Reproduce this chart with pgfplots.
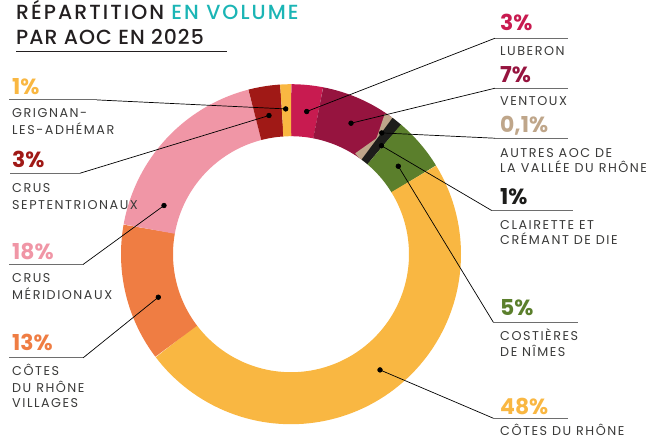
\documentclass[border=0pt]{standalone}
\usepackage{pgfplots}
\pgfplotsset{compat=1.18}
\usepackage{fontspec}
\setmainfont{Poppins}
\newfontfamily\popmed[LetterSpace=10]{Poppins Medium}
\newfontfamily\popmedb[LetterSpace=5]{Poppins Medium}
\newfontfamily\poplab[LetterSpace=12]{Poppins}
\definecolor{txt}{HTML}{3A3A39}
\definecolor{ttl}{HTML}{231F20}
\definecolor{teal}{HTML}{1BB5B5}
\definecolor{cLub}{HTML}{C81B50}
\definecolor{cVen}{HTML}{96143F}
\definecolor{cAut}{HTML}{BFA68A}
\definecolor{cCla}{HTML}{1D1D1B}
\definecolor{cCos}{HTML}{5B7F2C}
\definecolor{cCdr}{HTML}{F9B742}
\definecolor{cCdv}{HTML}{EF7D43}
\definecolor{cMer}{HTML}{F096A6}
\definecolor{cSep}{HTML}{A01916}
\definecolor{cGri}{HTML}{F9B742}
\definecolor{uline}{HTML}{6E6E6E}
\def\tot{99.1}
% segment from cumulative share #1 to #2 (percent), colour #3
\newcommand\seg[3]{%
  \addplot[draw=#3, line width=52bp, line cap=butt, line join=round,
    domain={360*#1/\tot}:{360*#2/\tot}, samples=90, variable=\t]
    ({291+144*sin(\t)},{252-144*cos(\t)});}
\newcommand\lead[1]{%
  \addplot[black, line width=0.7bp, mark=*, mark size=2.3bp, mark indices={1},
    mark options={fill=black}] coordinates {#1};}
\newcommand\ul[1]{%
  \addplot[uline, line width=1bp] coordinates {#1};}
\tikzset{pct/.style={anchor=base west, inner sep=0, font=\fontsize{22}{22}\selectfont\bfseries},
  lab/.style={anchor=base west, inner sep=0, font=\poplab\fontsize{12.8}{13}\selectfont, text=txt}}
\begin{document}
\begin{tikzpicture}
\begin{axis}[x=1bp, y=1bp, y dir=reverse, xmin=0, xmax=659, ymin=0, ymax=436,
  hide axis, clip=false, scale only axis]
\path (axis cs:0,0) rectangle (axis cs:659,436);
% donut: shares 3, 7, 0.1, 1, 5, 48, 13, 18, 3, 1 (clockwise from top)
\seg{0}{3}{cLub}
\seg{3}{10}{cVen}
\seg{10}{10.1}{cAut}
\seg{10.1}{11.1}{cCla}
\seg{11.1}{16.1}{cCos}
\seg{16.1}{64.1}{cCdr}
\seg{64.1}{77.1}{cCdv}
\seg{77.1}{95.1}{cMer}
\seg{95.1}{98.1}{cSep}
\seg{98.1}{99.1}{cGri}
% leader lines
\lead{(285.7,106.7) (97,97.7)}
\lead{(269,113.3) (80,171)}
\lead{(164,203.3) (83,262.3)}
\lead{(158.3,295) (83,355.7)}
\lead{(306.7,109.3) (495,36)}
\lead{(351,121) (495,86)}
\lead{(381.7,130.7) (495,136)}
\lead{(381.5,143.5) (491.7,208.3)}
\lead{(398.3,164) (493.3,320)}
\lead{(380,367.7) (493.3,416)}
% underlines
\ul{(9,97.7) (97,97.7)}
\ul{(10,171) (80,171)}
\ul{(9,262.3) (83,262.3)}
\ul{(9,355.7) (83,355.7)}
\ul{(495,36) (568,36)}
\ul{(495,86) (568,86)}
\ul{(495,136) (568,136)}
\ul{(491.7,208.3) (573,208.3)}
\ul{(493.3,320) (578,320)}
\ul{(493.3,416) (568,416)}
\addplot[ttl, line width=1.4bp] coordinates {(16,49) (227,49)};
% title
\node[anchor=base west, inner sep=0, font=\popmed\fontsize{20.5}{20}\selectfont, text=ttl] at (axis cs:16,17) {RÉPARTITION \textcolor{teal}{EN VOLUME}};
\node[anchor=base west, inner sep=0, font=\popmedb\fontsize{20.5}{20}\selectfont, text=ttl] at (axis cs:16,42) {PAR AOC EN 2025};
% left labels
\node[pct, text=cGri] at (axis cs:12,92) {1\%};
\node[lab] at (axis cs:12,115) {GRIGNAN-};
\node[lab] at (axis cs:12,132) {LES-ADHÉMAR};
\node[pct, text=cSep] at (axis cs:12,165) {3\%};
\node[lab] at (axis cs:12,190) {CRUS};
\node[lab] at (axis cs:12,207) {SEPTENTRIONAUX};
\node[pct, text=cMer] at (axis cs:12,257) {18\%};
\node[lab] at (axis cs:12,280) {CRUS};
\node[lab] at (axis cs:12,297) {MÉRIDIONAUX};
\node[pct, text=cCdv] at (axis cs:12,348) {13\%};
\node[lab] at (axis cs:12,373) {CÔTES};
\node[lab] at (axis cs:12,390) {DU RHÔNE};
\node[lab] at (axis cs:12,405) {VILLAGES};
% right labels
\node[pct, text=cLub] at (axis cs:500,28) {3\%};
\node[lab] at (axis cs:500,53) {LUBERON};
\node[pct, text=cVen] at (axis cs:500,80) {7\%};
\node[lab] at (axis cs:500,103) {VENTOUX};
\node[pct, text=cAut] at (axis cs:500,130) {0,1\%};
\node[lab] at (axis cs:500,155) {AUTRES AOC DE};
\node[lab] at (axis cs:500,170) {LA VALLÉE DU RHÔNE};
\node[pct, text=cCla] at (axis cs:500,202) {1\%};
\node[lab] at (axis cs:500,227) {CLAIRETTE ET};
\node[lab] at (axis cs:500,242) {CRÉMANT DE DIE};
\node[pct, text=cCos] at (axis cs:500,313) {5\%};
\node[lab] at (axis cs:500,338) {COSTIÈRES};
\node[lab] at (axis cs:500,354) {DE NÎMES};
\node[pct, text=cCdr] at (axis cs:500,412) {48\%};
\node[lab] at (axis cs:500,433) {CÔTES DU RHÔNE};
\end{axis}
\end{tikzpicture}
\end{document}
